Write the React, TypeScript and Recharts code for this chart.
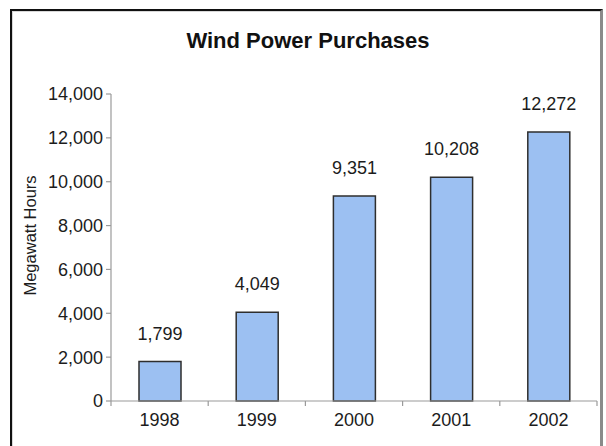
import React from 'react';
import { BarChart, Bar, XAxis, YAxis, LabelList, Label } from 'recharts';

// Annual wind power purchases (MWh)
const years = ['1998', '1999', '2000', '2001', '2002'];
const megawattHours = [1799, 4049, 9351, 10208, 12272];
const yTicks = [0, 2000, 4000, 6000, 8000, 10000, 12000, 14000];

const rows = years.map((year, i) => ({ year, mwh: megawattHours[i] }));

const FONT = '"Liberation Sans", Arial, Helvetica, sans-serif';
const AXIS_GRAY = '#9a9a9a';
const TEXT = '#1c1c1c';
const fmt = (v: number) => v.toLocaleString('en-US');

// Category ticks sit on the band edges, with the year centred in each band.
function YearTick(props: any) {
  const { x, y, payload, index, visibleTicksCount } = props;
  const half = payload && typeof payload.offset === 'number' && payload.offset > 0 ? payload.offset : 48.6;
  const last = (visibleTicksCount ?? years.length) - 1;
  return (
    <g>
      <line x1={x - half} x2={x - half} y1={y} y2={y + 5} stroke={AXIS_GRAY} strokeWidth={1.2} />
      {index === last && (
        <line x1={x + half} x2={x + half} y1={y} y2={y + 5} stroke={AXIS_GRAY} strokeWidth={1.2} />
      )}
      <text x={x} y={y + 25} textAnchor="middle" fontSize={18} fill={TEXT} fontFamily={FONT}>
        {payload.value}
      </text>
    </g>
  );
}

function YTitle(props: any) {
  const vb = props.viewBox || { x: 0, y: 94, width: 111, height: 307 };
  const cx = 30;
  const cy = vb.y + vb.height / 2 - 12;
  return (
    <text
      x={cx}
      y={cy}
      transform={`rotate(-90 ${cx} ${cy})`}
      textAnchor="middle"
      dominantBaseline="central"
      fontSize={16.5}
      fill={TEXT}
      fontFamily={FONT}
    >
      Megawatt Hours
    </text>
  );
}

export default function App() {
  return (
    <div style={{ position: 'absolute', left: 0, top: 0, width: 606, height: 446, background: '#fff', overflow: 'hidden' }}>
      <div
        style={{
          position: 'absolute',
          left: 10,
          top: 9,
          width: 588,
          height: 437,
          borderTop: '2px solid #111',
          borderLeft: '2px solid #111',
          borderRight: '3px solid #8a8a8a',
          boxShadow: 'inset 1px 1px 0 #d8d8d8',
        }}
      />
      <div
        style={{
          position: 'absolute',
          left: 0,
          top: 28,
          width: 616,
          textAlign: 'center',
          fontFamily: FONT,
          fontWeight: 'bold',
          fontSize: 22,
          color: '#111',
        }}
      >
        Wind Power Purchases
      </div>
      <div style={{ position: 'absolute', left: 0, top: 0 }}>
        <BarChart
          width={606}
          height={446}
          data={rows}
          margin={{ top: 94, right: 9, bottom: 15, left: 0 }}
          barSize={42}
        >
          <XAxis
            dataKey="year"
            height={30}
            axisLine={{ stroke: AXIS_GRAY, strokeWidth: 1.2 }}
            tickLine={false}
            tickSize={0}
            tickMargin={0}
            tick={<YearTick />}
            interval={0}
          />
          <YAxis
            width={111}
            domain={[0, 14000]}
            ticks={yTicks}
            interval={0}
            tickFormatter={fmt}
            axisLine={{ stroke: AXIS_GRAY, strokeWidth: 1.2 }}
            tickLine={{ stroke: AXIS_GRAY, strokeWidth: 1.2 }}
            tickSize={5}
            tickMargin={3}
            tick={{ fontSize: 18, fill: TEXT, fontFamily: FONT }}
          >
            <Label content={<YTitle />} />
          </YAxis>
          <Bar dataKey="mwh" fill="#9cc0f2" stroke="#2e2e2e" strokeWidth={1.5} isAnimationActive={false}>
            <LabelList
              dataKey="mwh"
              position="top"
              offset={22}
              formatter={(v: any) => fmt(Number(v))}
              style={{ fontSize: 18, fill: TEXT, fontFamily: FONT }}
            />
          </Bar>
        </BarChart>
      </div>
    </div>
  );
}
